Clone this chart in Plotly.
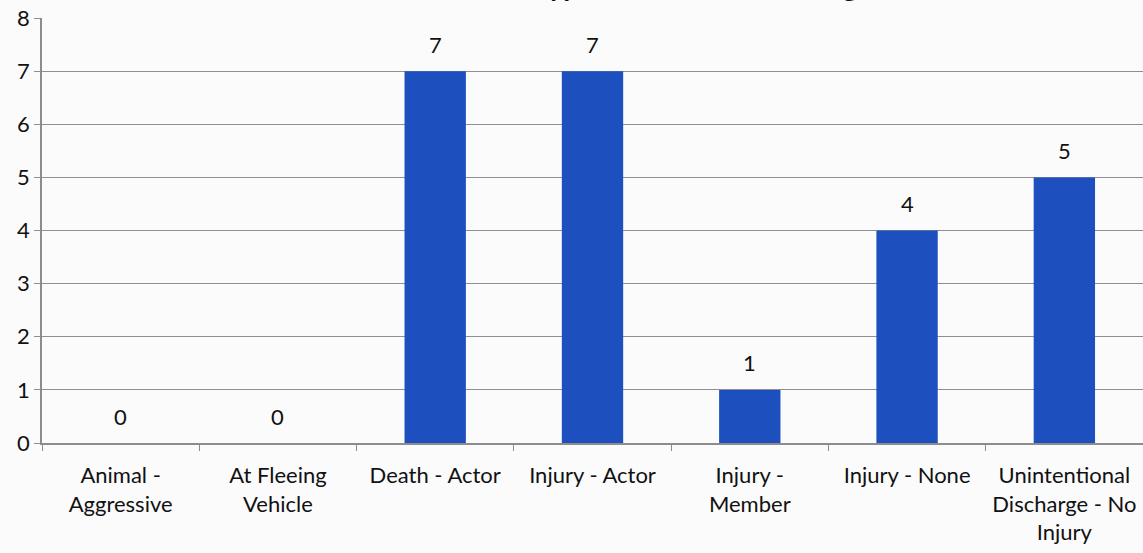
import plotly.graph_objects as go

categories = ["Animal -<br>Aggressive", "At Fleeing<br>Vehicle", "Death - Actor", "Injury - Actor",
              "Injury -<br>Member", "Injury - None", "Unintentional<br>Discharge - No<br>Injury"]
counts = [0, 0, 7, 7, 1, 4, 5]
y_ticks = [0, 1, 2, 3, 4, 5, 6, 7, 8]
title_text = "Types of Firearm Discharge"

font_family = "Lato, Carlito, Calibri, 'Open Sans', sans-serif"
fs = 22

fig = go.Figure(go.Bar(
    x=categories, y=counts,
    marker=dict(color="#1E4FBF", line=dict(width=0)),
    hoverinfo="x+y",
))

for c, v in zip(categories, counts):
    fig.add_annotation(x=c, y=v, xref="x", yref="y", text=str(v), showarrow=False,
                       yanchor="middle", yshift=27,
                       font=dict(size=fs, family=font_family, color="#111111"))

fig.update_layout(
    width=1143, height=553,
    margin=dict(l=42, r=0, t=18, b=110),
    paper_bgcolor="#fbfbfc", plot_bgcolor="#fbfbfc",
    bargap=0.61,
    showlegend=False,
    font=dict(family=font_family, size=fs, color="#111111"),
)
fig.update_xaxes(
    showgrid=False, showline=True, linecolor="#8c8c8c", linewidth=1.5,
    ticks="outside", tickson="boundaries", ticklen=6, tickcolor="#8c8c8c",
    ticklabelstandoff=12,
    tickfont=dict(size=fs, family=font_family, color="#111111"),
)
fig.update_yaxes(
    range=[0, 8], tickvals=y_ticks, showgrid=True, gridcolor="#8f8f8f", gridwidth=1.3,
    showline=True, linecolor="#8c8c8c", linewidth=1.5,
    ticks="outside", ticklen=6, tickcolor="#8f8f8f",
    tickfont=dict(size=fs, family=font_family, color="#111111"),
    zeroline=False,
)
fig.add_annotation(text="<b>" + title_text + "</b>", xref="paper", yref="paper",
                   x=0.6, y=1.0, yshift=14, yanchor="bottom", showarrow=False,
                   font=dict(size=28, family=font_family, color="#111111"))

fig.write_html("out.html", config={"displayModeBar": False},
               post_script="document.body.style.margin='0';document.body.style.padding='0';document.body.style.overflow='hidden';")
